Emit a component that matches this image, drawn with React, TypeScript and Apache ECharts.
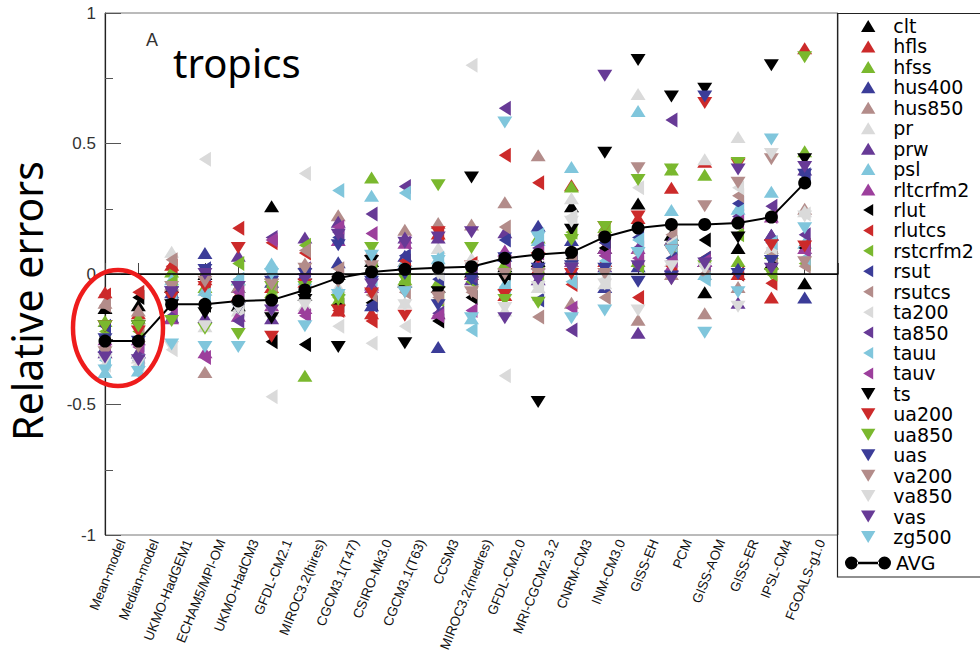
import { useEffect, useRef } from 'react';
import * as echarts from 'echarts';

// Models, in order of increasing average relative error
const models = [
  'Mean-model', 'Median-model', 'UKMO-HadGEM1', 'ECHAM5/MPI-OM', 'UKMO-HadCM3', 'GFDL-CM2.1',
  'MIROC3.2(hires)', 'CGCM3.1(T47)', 'CSIRO-Mk3.0', 'CGCM3.1(T63)', 'CCSM3', 'MIROC3.2(medres)',
  'GFDL-CM2.0', 'MRI-CGCM2.3.2', 'CNRM-CM3', 'INM-CM3.0', 'GISS-EH', 'PCM', 'GISS-AOM', 'GISS-ER',
  'IPSL-CM4', 'FGOALS-g1.0',
];

const yTicks = [-1, -0.5, 0, 0.5, 1];

// Relative errors per variable, one value per model
const clt = [-0.13, -0.12, -0.05, 0.0, -0.12, 0.26, -0.08, 0.0, 0.05, -0.03, -0.05, 0.01, 0.03, 0.05, 0.26, 0.1, 0.27, 0.15, -0.07, 0.1, 0.04, -0.035];
const hfls = [-0.07, -0.15, 0.035, -0.02, -0.08, -0.05, -0.03, -0.14, -0.15, 0.05, 0.155, 0.0, -0.08, 0.02, 0.34, 0.05, 0.215, 0.33, 0.43, 0.0, -0.09, 0.865];
const hfss = [-0.18, -0.17, 0.01, -0.05, -0.02, -0.07, -0.39, -0.1, 0.37, -0.02, -0.03, 0.02, 0.04, 0.14, 0.335, 0.18, 0.05, 0.4, 0.38, 0.05, 0.08, 0.47];
const hus400 = [-0.28, -0.3, -0.07, 0.08, -0.05, -0.03, 0.0, 0.045, -0.12, 0.07, -0.28, 0.05, 0.07, 0.185, 0.13, -0.05, 0.03, 0.13, 0.05, 0.02, 0.15, -0.09];
const hus850 = [-0.11, -0.14, -0.04, -0.375, -0.05, 0.0, 0.04, 0.225, 0.09, 0.17, 0.195, 0.19, 0.275, 0.455, -0.11, 0.17, -0.175, 0.0, -0.15, -0.05, 0.1, 0.25];
const pr = [-0.3, -0.32, 0.085, -0.2, -0.14, -0.14, -0.12, -0.05, 0.06, -0.11, 0.1, 0.06, -0.14, -0.05, 0.29, -0.035, 0.69, 0.05, 0.44, 0.525, 0.1, 0.24];
const prw = [-0.3, -0.3, -0.165, -0.165, 0.07, -0.17, 0.14, 0.2, -0.04, 0.14, 0.14, -0.02, 0.16, -0.02, 0.02, 0.03, -0.225, 0.13, 0.05, -0.11, 0.15, 0.4];
const psl = [-0.375, -0.37, -0.02, -0.06, -0.02, 0.04, -0.02, -0.06, 0.3, 0.05, 0.06, -0.17, -0.04, 0.13, 0.41, 0.02, 0.625, 0.245, 0.0, 0.25, 0.315, 0.12];
const rltcrfm2 = [-0.25, -0.25, -0.17, -0.3, -0.16, -0.12, -0.13, 0.13, -0.05, 0.12, -0.15, 0.0, 0.09, 0.04, 0.05, 0.1, 0.1, 0.03, 0.05, 0.22, 0.22, 0.1];
const rlut = [-0.24, -0.09, -0.1, -0.12, -0.13, -0.26, -0.27, -0.12, -0.11, 0.03, -0.18, -0.09, 0.0, 0.02, 0.06, 0.1, 0.04, 0.12, 0.13, 0.0, 0.06, 0.1];
const rlutcs = [-0.08, -0.07, 0.03, -0.03, 0.175, 0.12, 0.08, -0.14, -0.18, 0.05, 0.155, 0.04, 0.455, 0.35, -0.04, 0.12, -0.09, 0.03, 0.06, 0.0, -0.035, 0.11];
const rstcrfm2 = [-0.22, -0.22, -0.03, 0.0, 0.04, -0.05, 0.11, -0.09, 0.02, -0.03, -0.1, -0.03, 0.02, 0.0, 0.16, 0.17, 0.03, 0.1, 0.03, 0.15, 0.0, 0.04];
const rsut = [-0.2, -0.27, -0.09, 0.02, -0.09, -0.03, -0.02, 0.14, -0.12, 0.07, -0.02, -0.02, 0.13, -0.1, 0.07, 0.12, 0.14, 0.06, 0.06, 0.27, 0.12, 0.38];
const rsutcs = [-0.12, -0.2, 0.055, -0.08, -0.07, -0.04, 0.09, 0.02, -0.08, -0.07, -0.09, -0.07, 0.18, -0.165, 0.05, -0.09, 0.08, 0.15, 0.0, 0.3, 0.07, 0.03];
const ta200 = [-0.35, -0.35, -0.29, 0.44, -0.14, -0.47, 0.385, -0.2, -0.265, -0.2, 0.0, 0.8, -0.39, -0.05, 0.22, -0.02, 0.33, 0.12, 0.04, 0.33, 0.1, 0.23];
const ta850 = [-0.28, -0.33, -0.16, -0.01, -0.18, 0.14, 0.02, 0.16, 0.23, 0.335, -0.15, -0.01, 0.635, 0.1, -0.215, 0.07, 0.1, 0.59, 0.04, 0.22, 0.26, 0.15];
const tauu = [-0.33, -0.33, -0.1, -0.08, -0.02, 0.0, -0.04, 0.32, -0.02, 0.31, 0.06, -0.215, -0.05, 0.15, -0.03, 0.05, 0.13, 0.11, -0.02, 0.24, 0.12, 0.06];
const tauv = [-0.27, -0.28, -0.13, -0.32, -0.07, 0.13, -0.16, 0.18, 0.155, 0.12, -0.16, -0.14, 0.05, 0.08, -0.13, 0.07, 0.06, 0.05, 0.05, 0.2, 0.22, 0.09];
const ts = [-0.2, -0.2, -0.12, -0.15, -0.13, -0.17, -0.1, -0.28, 0.05, -0.265, -0.07, 0.37, -0.02, -0.49, 0.17, 0.465, 0.82, 0.68, 0.71, 0.14, 0.8, 0.44];
const ua200 = [-0.2, -0.22, -0.09, -0.05, 0.1, -0.24, -0.04, -0.14, -0.075, -0.16, 0.16, 0.03, -0.08, 0.06, 0.0, 0.18, 0.22, 0.09, 0.655, 0.42, 0.11, 0.105];
const ua850 = [-0.2, -0.2, -0.18, -0.21, -0.23, -0.05, -0.05, -0.1, 0.1, -0.02, 0.34, 0.1, -0.1, -0.11, 0.13, 0.18, 0.36, 0.4, 0.03, 0.425, 0.0, 0.83];
const uas = [-0.25, -0.26, -0.07, 0.015, -0.13, -0.03, 0.0, 0.11, -0.03, 0.0, -0.12, -0.02, 0.06, 0.02, 0.03, 0.02, -0.03, -0.01, 0.68, 0.0, 0.05, 0.38];
const va200 = [-0.3, -0.28, -0.05, -0.03, -0.05, -0.04, 0.02, -0.03, 0.03, -0.07, -0.09, -0.07, 0.0, 0.0, 0.02, 0.0, 0.405, -0.02, 0.26, 0.35, 0.44, 0.045];
const va850 = [-0.33, -0.34, -0.28, -0.2, -0.13, -0.14, -0.12, -0.02, 0.0, -0.12, 0.0, 0.03, -0.13, -0.05, 0.2, -0.04, -0.14, 0.03, 0.02, -0.125, 0.46, 0.22];
const vas = [-0.32, -0.33, -0.07, 0.0, -0.05, -0.14, -0.02, 0.15, -0.04, 0.12, 0.14, 0.16, -0.17, -0.02, 0.02, 0.76, 0.03, -0.02, 0.04, 0.4, 0.02, 0.41];
const zg500 = [-0.37, -0.375, -0.27, -0.28, -0.28, 0.0, -0.2, -0.08, 0.07, -0.07, 0.05, -0.17, 0.58, 0.14, -0.17, -0.14, 0.08, 0.09, -0.225, -0.07, 0.515, 0.175];

// Average relative error per model
const avg = [-0.257, -0.257, -0.116, -0.116, -0.103, -0.1, -0.061, -0.015, 0.008, 0.018, 0.024, 0.028, 0.06, 0.075, 0.083, 0.142, 0.176, 0.19, 0.19, 0.195, 0.218, 0.349];

// Marker shapes
const SHAPES: Record<string, string> = {
  up: 'path://M6,0L12,10L0,10Z',
  down: 'path://M0,0L12,0L6,10Z',
  left: 'path://M0,6L10,0L10,12Z',
};
const AVG_ICON =
  'path://M0,6.5A6.5,6.5 0 1,0 13,6.5A6.5,6.5 0 1,0 0,6.5Z' +
  'M33,6.5A6.5,6.5 0 1,0 46,6.5A6.5,6.5 0 1,0 33,6.5Z' +
  'M12,5.3L34,5.3L34,7.7L12,7.7Z';

const C = {
  black: '#000000',
  red: '#cc2a2a',
  green: '#7ab82e',
  navy: '#3b3c98',
  brown: '#b38c8a',
  grey: '#dadada',
  purple: '#673a96',
  cyan: '#80c6dc',
  magenta: '#9c3f9c',
};

const variables = [
  { name: 'clt', values: clt, shape: 'up', color: C.black },
  { name: 'hfls', values: hfls, shape: 'up', color: C.red },
  { name: 'hfss', values: hfss, shape: 'up', color: C.green },
  { name: 'hus400', values: hus400, shape: 'up', color: C.navy },
  { name: 'hus850', values: hus850, shape: 'up', color: C.brown },
  { name: 'pr', values: pr, shape: 'up', color: C.grey },
  { name: 'prw', values: prw, shape: 'up', color: C.purple },
  { name: 'psl', values: psl, shape: 'up', color: C.cyan },
  { name: 'rltcrfm2', values: rltcrfm2, shape: 'up', color: C.magenta },
  { name: 'rlut', values: rlut, shape: 'left', color: C.black },
  { name: 'rlutcs', values: rlutcs, shape: 'left', color: C.red },
  { name: 'rstcrfm2', values: rstcrfm2, shape: 'left', color: C.green },
  { name: 'rsut', values: rsut, shape: 'left', color: C.navy },
  { name: 'rsutcs', values: rsutcs, shape: 'left', color: C.brown },
  { name: 'ta200', values: ta200, shape: 'left', color: C.grey },
  { name: 'ta850', values: ta850, shape: 'left', color: C.purple },
  { name: 'tauu', values: tauu, shape: 'left', color: C.cyan },
  { name: 'tauv', values: tauv, shape: 'left', color: C.magenta },
  { name: 'ts', values: ts, shape: 'down', color: C.black },
  { name: 'ua200', values: ua200, shape: 'down', color: C.red },
  { name: 'ua850', values: ua850, shape: 'down', color: C.green },
  { name: 'uas', values: uas, shape: 'down', color: C.navy },
  { name: 'va200', values: va200, shape: 'down', color: C.brown },
  { name: 'va850', values: va850, shape: 'down', color: C.grey },
  { name: 'vas', values: vas, shape: 'down', color: C.purple },
  { name: 'zg500', values: zg500, shape: 'down', color: C.cyan },
];

const legendText = {
  fontFamily: 'DejaVu Sans',
  fontSize: 19,
  color: '#000',
  lineHeight: 20,
};

export default function App() {
  const ref = useRef<HTMLDivElement>(null);

  useEffect(() => {
    document.body.style.margin = '0';
    const chart = echarts.init(ref.current!, undefined, { renderer: 'svg' });

    const scatterSeries = variables.map((v, k) => ({
      type: 'scatter' as const,
      name: v.name,
      xAxisIndex: 0,
      yAxisIndex: 0,
      symbol: SHAPES[v.shape],
      symbolSize: v.shape === 'left' ? [12, 15] : [15, 12],
      itemStyle: { color: v.color, opacity: 1 },
      data: v.values.map((y, i) => [i, y]),
      z: 3,
      ...(k === 0
        ? {
            markLine: {
              silent: true,
              symbol: 'none',
              label: { show: false },
              lineStyle: { color: '#000', width: 1.5, type: 'solid' },
              data: [{ yAxis: 0 }],
            },
          }
        : {}),
    }));

    chart.setOption({
      animation: false,
      grid: {
        left: 105,
        right: 142,
        top: 13,
        bottom: 122,
        show: true,
        borderColor: '#777',
        borderWidth: 1,
        backgroundColor: 'transparent',
      },
      xAxis: [
        {
          type: 'value',
          min: 0,
          max: models.length,
          interval: 1,
          position: 'bottom',
          axisLine: { show: true, lineStyle: { color: '#222', width: 1.2 } },
          axisTick: { show: true, inside: true, length: 11, lineStyle: { color: '#444' } },
          axisLabel: { show: false },
          splitLine: { show: false },
        },
        {
          type: 'category',
          data: models,
          boundaryGap: true,
          position: 'bottom',
          axisLine: { show: false },
          axisTick: { show: false },
          splitLine: { show: false },
          axisLabel: {
            interval: 0,
            rotate: 68,
            margin: 5,
            fontSize: 13.5,
            fontFamily: 'Liberation Sans',
            color: '#111',
          },
        },
      ],
      yAxis: {
        type: 'value',
        min: yTicks[0],
        max: yTicks[yTicks.length - 1],
        interval: 0.5,
        axisLine: { show: true, lineStyle: { color: '#222', width: 1.2 } },
        axisTick: { show: true, inside: true, length: 16, lineStyle: { color: '#555' } },
        minorTick: { show: true, splitNumber: 2, length: 8, lineStyle: { color: '#555' } },
        splitLine: { show: false },
        axisLabel: {
          color: '#333',
          fontSize: 17,
          fontFamily: 'Liberation Sans',
          margin: 9,
          formatter: (v: number) => String(v),
        },
      },
      legend: [
        {
          // the group is shifted by the icon's inset inside its 40px slot
          orient: 'vertical',
          left: 861,
          top: 16,
          padding: 0,
          itemWidth: 40,
          itemHeight: 12,
          itemGap: 0.44,
          selectedMode: false,
          textStyle: legendText,
          data: variables.map((v) => ({ name: v.name, icon: SHAPES[v.shape] })),
        },
        {
          orient: 'vertical',
          left: 845,
          top: 553,
          padding: 0,
          itemWidth: 46,
          itemHeight: 13,
          selectedMode: false,
          textStyle: legendText,
          data: [{ name: 'AVG', icon: AVG_ICON }],
        },
      ],
      graphic: [
        {
          type: 'rect',
          shape: { x: 837.5, y: 13.5, width: 200, height: 563.5 },
          style: { fill: 'none', stroke: '#222', lineWidth: 1.2 },
          z: 1,
        },
        {
          type: 'text',
          x: 152,
          y: 40,
          style: {
            text: 'A',
            font: '18px "Liberation Sans"',
            fill: '#333',
            align: 'center',
            verticalAlign: 'middle',
          },
        },
        {
          type: 'text',
          x: 173,
          y: 62,
          style: {
            text: 'tropics',
            font: '40px "Noto Sans"',
            fill: '#000',
            align: 'left',
            verticalAlign: 'middle',
          },
        },
        {
          type: 'text',
          x: 27,
          y: 301,
          rotation: Math.PI / 2,
          style: {
            text: 'Relative errors',
            font: '41px "Noto Sans"',
            fill: '#000',
            align: 'center',
            verticalAlign: 'middle',
          },
        },
        {
          type: 'ellipse',
          shape: { cx: 118, cy: 328, rx: 45, ry: 58 },
          style: { fill: 'none', stroke: '#ee1c1c', lineWidth: 4.5 },
          z: 100,
        },
      ],
      series: [
        ...scatterSeries,
        {
          type: 'line',
          name: 'AVG',
          xAxisIndex: 0,
          yAxisIndex: 0,
          data: avg.map((y, i) => [i, y]),
          symbol: 'circle',
          symbolSize: 13,
          lineStyle: { color: '#000', width: 2 },
          itemStyle: { color: '#000' },
          z: 5,
        },
      ],
    });

    return () => chart.dispose();
  }, []);

  return <div ref={ref} style={{ width: 980, height: 657 }} />;
}
